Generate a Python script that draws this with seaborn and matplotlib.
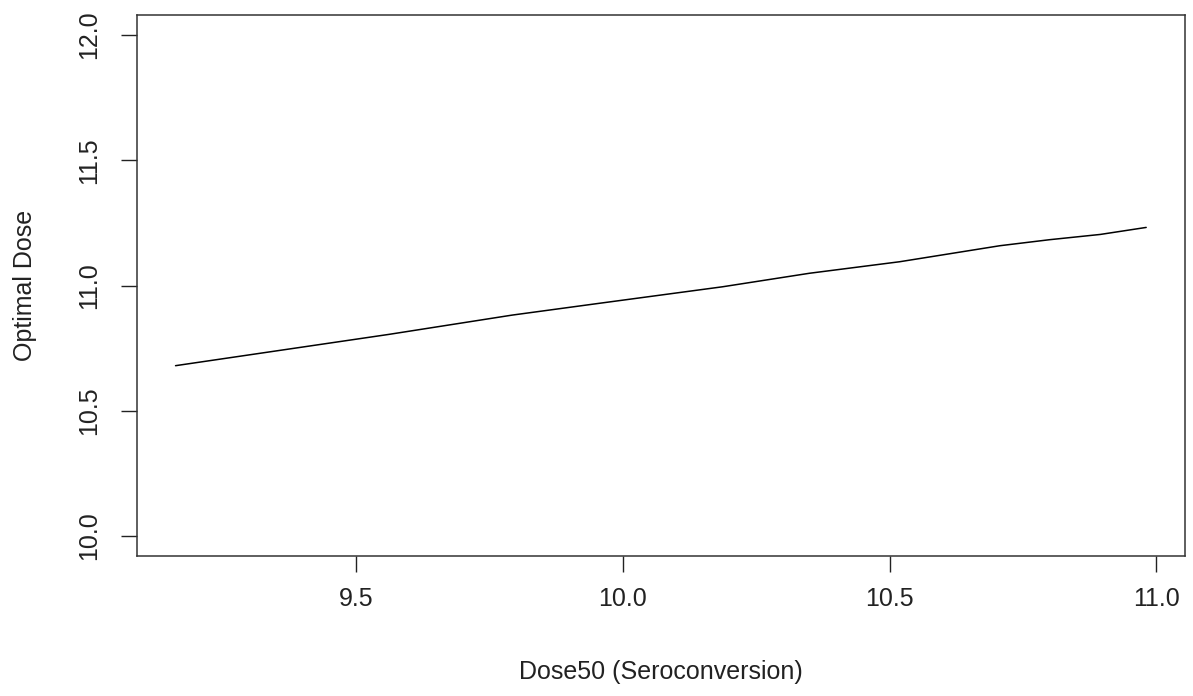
import matplotlib
matplotlib.use("Agg")
import matplotlib.pyplot as plt
import seaborn as sns
import pandas as pd

# Data
dose50 = [9.162, 9.562, 9.793, 9.956, 10.187, 10.350, 10.519, 10.707, 10.80, 10.895, 10.981]
optimal_dose = [10.680, 10.805, 10.882, 10.929, 10.995, 11.049, 11.095, 11.159, 11.183, 11.204, 11.232]
x_ticks = [9.5, 10.0, 10.5, 11.0]
y_ticks = [10.0, 10.5, 11.0, 11.5, 12.0]
x_label = "Dose50 (Seroconversion)"
y_label = "Optimal Dose"

sns.set_style("white")
plt.rcParams['font.family'] = ['Liberation Sans', 'DejaVu Sans']

df = pd.DataFrame({"x": dose50, "y": optimal_dose})

fig = plt.figure(figsize=(11.93, 6.96), dpi=100)
ax = fig.add_axes([0.1146, 0.2011, 0.8787, 0.7773])

sns.lineplot(data=df, x="x", y="y", ax=ax, color="black", linewidth=1.1,
             estimator=None, sort=False)

rng = max(dose50) - min(dose50)
ax.set_xlim(min(dose50) - 0.04 * rng, max(dose50) + 0.04 * rng)
ax.set_ylim(10.0 - 0.08, 12.0 + 0.08)

ax.set_xticks(x_ticks)
ax.set_xticklabels([f"{v:.1f}" for v in x_ticks])
ax.set_yticks(y_ticks)
ax.set_yticklabels([f"{v:.1f}" for v in y_ticks], rotation=90, va="center")

ax.tick_params(axis="both", which="major", direction="out", length=11.5,
               width=1.0, color="#222222", labelsize=18, labelcolor="#222222",
               bottom=True, left=True, top=False, right=False)
ax.tick_params(axis="x", pad=11)
ax.tick_params(axis="y", pad=14)

for s in ax.spines.values():
    s.set_visible(True)
    s.set_color("#333333")
    s.set_linewidth(1.1)

ax.set_xlabel(x_label, fontsize=18, color="#222222", va="center")
ax.set_ylabel(y_label, fontsize=18, color="#222222", va="center")
ax.xaxis.set_label_coords(0.5, -0.2144)
ax.yaxis.set_label_coords(-0.1066, 0.5)

ax.grid(False)
fig.savefig("out.png", dpi=100, facecolor="white")
